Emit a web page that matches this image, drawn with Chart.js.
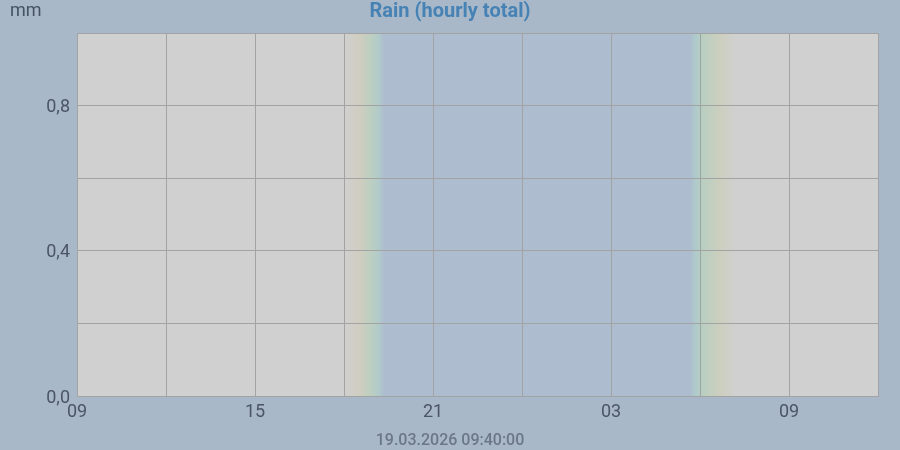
<!DOCTYPE html>
<html>
<head>
<meta charset="utf-8">
<script src="https://cdn.jsdelivr.net/npm/chart.js@4/dist/chart.umd.min.js"></script>
<style>
  html, body { margin: 0; padding: 0; background: #a9b8c9; }
  #wrap { width: 900px; height: 450px; }
</style>
</head>
<body>
<div id="wrap"><canvas id="rainChart" width="900" height="450"></canvas></div>
<script>
// Rain (hourly total) - 27 hours from 09:00
const startHour = 9;
const hours = [0,1,2,3,4,5,6,7,8,9,10,11,12,13,14,15,16,17,18,19,20,21,22,23,24,25,26];
const rain  = [0,0,0,0,0,0,0,0,0,0,0,0,0,0,0,0,0,0,0,0,0,0,0,0,0,0,0];
const yTicks = [0, 0.4, 0.8];
const stamp = '19.03.2026 09:40:00';

// twilight bands (hours from start) : day -> night and night -> day
const duskStops = [[9.0,'#d0d0d0'],[9.55,'#cfcdbf'],[9.9,'#bccfc0'],[10.2,'#b0c9cb'],[10.35,'#adbccf']];
const dawnStops = [[20.65,'#adbccf'],[20.85,'#aecacb'],[21.1,'#b9cfc1'],[21.7,'#cdcfbf'],[22.2,'#d0d0d0']];

const bgPlugin = {
  id: 'bg',
  beforeDraw(chart){
    const {ctx, chartArea:a, scales:{x}} = chart;
    ctx.save();
    ctx.fillStyle = '#d0d0d0';
    ctx.fillRect(a.left, a.top, a.right - a.left, a.bottom - a.top);
    const x0 = x.getPixelForValue(duskStops[0][0]);
    const x1 = x.getPixelForValue(dawnStops[dawnStops.length-1][0]);
    const g = ctx.createLinearGradient(x0, 0, x1, 0);
    for(const [h,c] of duskStops.concat(dawnStops)){
      g.addColorStop((x.getPixelForValue(h) - x0) / (x1 - x0), c);
    }
    ctx.fillStyle = g;
    ctx.fillRect(x0, a.top, x1 - x0, a.bottom - a.top);
    ctx.restore();
  },
  afterDraw(chart){
    const {ctx} = chart;
    ctx.save();
    ctx.textBaseline = 'middle';
    ctx.textAlign = 'center';
    ctx.fillStyle = '#4682b4';
    ctx.font = 'bold 20px Roboto';
    ctx.fillText('Rain (hourly total)', 450, 12);
    ctx.textAlign = 'left';
    ctx.fillStyle = '#455262';
    ctx.font = '18px Roboto';
    ctx.fillText('mm', 10, 11);
    ctx.textAlign = 'center';
    ctx.fillStyle = '#6b7788';
    ctx.font = '500 16px Roboto';
    ctx.fillText(stamp, 450, 441);
    ctx.restore();
  }
};

new Chart(document.getElementById('rainChart'), {
  type: 'bar',
  data: {
    datasets: [{
      data: hours.map((h,i) => ({x: h + 0.5, y: rain[i]})),
      backgroundColor: '#4682b4',
      barPercentage: 0.9,
      categoryPercentage: 1
    }]
  },
  options: {
    responsive: false,
    animation: false,
    layout: { padding: { top: 33, right: 22, left: 0, bottom: 0 } },
    plugins: { legend: { display: false }, tooltip: { enabled: false } },
    scales: {
      x: {
        type: 'linear',
        min: 0, max: 27,
        offset: false,
        afterFit: s => { s.height = 54; },
        afterBuildTicks: s => { s.ticks = [0,3,6,9,12,15,18,21,24,27].map(v => ({value: v})); },
        grid: { color: '#a3a3a3', drawTicks: false, offset: false },
        border: { color: '#a3a3a3' },
        ticks: {
          padding: 6,
          maxRotation: 0,
          color: '#4a5566',
          font: { family: 'Roboto', size: 18 },
          callback: v => (v % 6 === 0 && v < 27) ? String((startHour + v) % 24).padStart(2,'0') : ''
        }
      },
      y: {
        min: 0, max: 1,
        afterFit: s => { s.width = 77; },
        afterBuildTicks: s => { s.ticks = [0,0.2,0.4,0.6,0.8,1].map(v => ({value: v})); },
        grid: { color: '#a3a3a3', drawTicks: false },
        border: { color: '#a3a3a3' },
        ticks: {
          padding: 7,
          labelOffset: 2,
          color: '#4a5566',
          font: { family: 'Roboto', size: 18 },
          callback: v => yTicks.some(t => Math.abs(t - v) < 1e-6) ? v.toFixed(1).replace('.', ',') : ''
        }
      }
    }
  },
  plugins: [bgPlugin]
});
</script>
</body>
</html>
